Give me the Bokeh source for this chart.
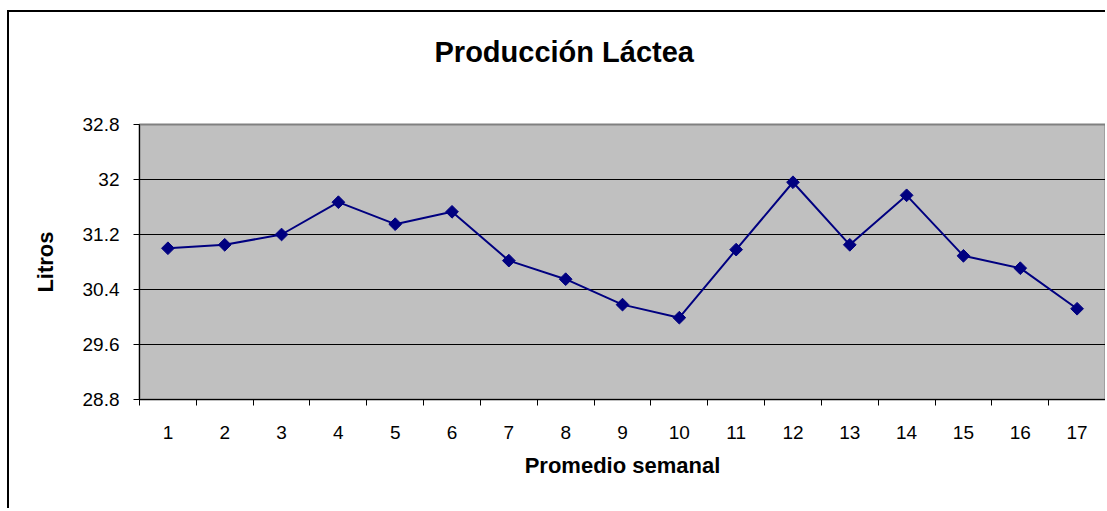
import math
from bokeh.plotting import figure
from bokeh.models import Range1d, FixedTicker, Title
from bokeh.embed import file_html
from bokeh.resources import INLINE

# ---- data ----
weeks = list(range(1, 18))
litros = [31.0, 31.05, 31.2, 31.67, 31.35, 31.53, 30.82, 30.55, 30.18, 29.99,
          30.98, 31.96, 31.05, 31.77, 30.89, 30.71, 30.12]
y_ticks = [28.8, 29.6, 30.4, 31.2, 32.0, 32.8]
y_tick_labels = ["28.8", "29.6", "30.4", "31.2", "32", "32.8"]
week_labels = [str(w) for w in weeks]
chart_title = "Producción Láctea"
x_title = "Promedio semanal"
y_title = "Litros"

FONT = "Liberation Sans"
NAVY = "#000080"

p = figure(width=1098, height=498,
           x_range=Range1d(weeks[0] - 0.5, weeks[-1] + 0.5),
           y_range=Range1d(y_ticks[0], y_ticks[-1]),
           output_backend="svg", toolbar_location=None, title_location=None,
           min_border_left=130, min_border_right=2,
           min_border_top=112, min_border_bottom=111)
p.styles = {"margin-left": "7px", "margin-top": "10px",
            "border-left": "2px solid black", "border-top": "2px solid black"}

p.background_fill_color = "#C0C0C0"
p.border_fill_color = "white"
p.outline_line_color = "#808080"
p.outline_line_width = 2

p.xgrid.visible = False
p.ygrid.grid_line_color = "black"
p.ygrid.grid_line_width = 1
p.ygrid.grid_line_alpha = 1

# y axis
p.yaxis.ticker = FixedTicker(ticks=y_ticks)
p.yaxis.major_label_overrides = dict(zip(y_ticks, y_tick_labels))
p.yaxis.major_tick_out = 6
p.yaxis.major_tick_in = 0
p.yaxis.minor_tick_out = 0
p.yaxis.minor_tick_in = 0
p.yaxis.major_label_standoff = 14
p.yaxis.axis_label = y_title
p.yaxis.axis_label_standoff = 22

# x axis: labels at category centres, ticks at category boundaries
boundaries = [w - 0.5 for w in weeks] + [weeks[-1] + 0.5]
p.xaxis.ticker = FixedTicker(ticks=weeks, minor_ticks=boundaries)
p.xaxis.major_label_overrides = dict(zip(weeks, week_labels))
p.xaxis.major_tick_out = 0
p.xaxis.major_tick_in = 0
p.xaxis.minor_tick_out = 6
p.xaxis.minor_tick_in = 0
p.xaxis.minor_tick_line_color = "black"
p.xaxis.major_label_standoff = 20
p.xaxis.axis_label = x_title
p.xaxis.axis_label_standoff = 11

for ax in (p.xaxis, p.yaxis):
    ax.axis_line_color = "black"
    ax.axis_line_width = 1
    ax.major_tick_line_color = "black"
    ax.major_label_text_font = FONT
    ax.major_label_text_font_size = "19px"
    ax.major_label_text_color = "black"
    ax.axis_label_text_font = FONT
    ax.axis_label_text_font_size = "22px"
    ax.axis_label_text_font_style = "bold"
    ax.axis_label_text_color = "black"

# title: an empty second line lifts it well above the plot frame
title = Title(text=chart_title + "\n", align="left", offset=295,
              text_font=FONT, text_font_size="29px", text_font_style="bold",
              text_color="black", text_line_height=1.6, standoff=10)
p.add_layout(title, "above")

p.line(weeks, litros, line_color=NAVY, line_width=2)
p.scatter(weeks, litros, marker="square", angle=math.pi / 4, size=9,
          fill_color=NAVY, line_color=NAVY)

open("out.html", "w").write(file_html(p, INLINE))
